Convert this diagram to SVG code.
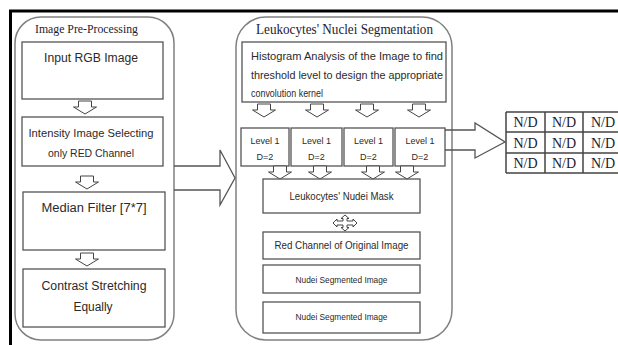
<svg xmlns="http://www.w3.org/2000/svg" xmlns:xlink="http://www.w3.org/1999/xlink" width="618" height="345" viewBox="0 0 618 345">
<style>
.frame{fill:none;stroke:#000;stroke-width:3}
.cont{fill:none;stroke:#808080;stroke-width:1.5}
.box{fill:#fff;stroke:#555;stroke-width:1.3}
.sarr{fill:#fff;stroke:#444;stroke-width:1}
.barr{fill:none;stroke:#555;stroke-width:1.3}
.ttl{font-family:"Liberation Serif",serif;fill:#1c1c30}
.t{font-family:"Liberation Sans",Arial,sans-serif;fill:#2a2a2a;text-anchor:middle}
.tl{font-family:"Liberation Sans",Arial,sans-serif;fill:#2a2a2a}
.nd{font-family:"Liberation Serif",serif;fill:#1a1a2e;font-size:14px;text-anchor:middle}
.tbl{fill:none;stroke:#444;stroke-width:1.5}
</style>
<defs>
<path id="sa" d="M-6.5,0 H6.5 V6 H11.5 L0,13 L-11.5,6 H-6.5 Z"/>
</defs>
<rect width="618" height="345" fill="#fff"/>
<path class="frame" d="M10.5,345 V11 H618"/>

<g id="preprocessing">
<rect class="cont" x="15" y="17" width="159" height="323" rx="26" ry="26"/>
<text class="ttl" x="35" y="33" font-size="12" textLength="103" lengthAdjust="spacingAndGlyphs">Image Pre-Processing</text>
</g>
<g id="input-rgb">
<rect class="box" x="22" y="42" width="141" height="57"/>
<text class="t" x="91" y="62" font-size="12" textLength="94" lengthAdjust="spacingAndGlyphs">Input RGB Image</text>
</g>
<g id="intensity">
<rect class="box" x="22" y="117" width="141" height="49"/>
<text class="t" x="91" y="137" font-size="11" textLength="125" lengthAdjust="spacingAndGlyphs">Intensity Image Selecting</text>
<text class="t" x="91" y="157" font-size="11" textLength="86" lengthAdjust="spacingAndGlyphs">only RED Channel</text>
</g>
<g id="median">
<rect class="box" x="23" y="192" width="142" height="58"/>
<text class="t" x="94" y="212" font-size="12" textLength="105" lengthAdjust="spacingAndGlyphs">Median Filter [7*7]</text>
</g>
<g id="contrast">
<rect class="box" x="23" y="269" width="142" height="58"/>
<text class="t" x="94" y="290" font-size="12" textLength="105" lengthAdjust="spacingAndGlyphs">Contrast Stretching</text>
<text class="t" x="93" y="311" font-size="12" textLength="39" lengthAdjust="spacingAndGlyphs">Equally</text>
</g>

<g id="segmentation">
<rect class="cont" x="236" y="17" width="216" height="323" rx="30" ry="30"/>
<text class="ttl" x="256" y="34" font-size="14" textLength="177" lengthAdjust="spacingAndGlyphs">Leukocytes' Nuclei Segmentation</text>
</g>
<g id="histogram">
<rect class="box" x="242" y="42" width="204" height="60"/>
<text class="tl" x="251" y="60" font-size="10.5" textLength="192" lengthAdjust="spacingAndGlyphs">Histogram Analysis of the Image to find</text>
<text class="tl" x="251" y="79" font-size="10.5" textLength="192" lengthAdjust="spacingAndGlyphs">threshold level to design the appropriate</text>
<text class="tl" x="251" y="97" font-size="10.5" textLength="72" lengthAdjust="spacingAndGlyphs">convolution kernel</text>
</g>
<g id="level-1">
<rect class="box" x="241" y="128" width="48" height="38"/>
<text class="t" x="265" y="144" font-size="9">Level 1</text>
<text class="t" x="265" y="160" font-size="9">D=2</text>
</g>
<g id="level-2">
<rect class="box" x="291" y="128" width="51" height="38"/>
<text class="t" x="316.5" y="144" font-size="9">Level 1</text>
<text class="t" x="316.5" y="160" font-size="9">D=2</text>
</g>
<g id="level-3">
<rect class="box" x="344" y="128" width="49" height="38"/>
<text class="t" x="368.5" y="144" font-size="9">Level 1</text>
<text class="t" x="368.5" y="160" font-size="9">D=2</text>
</g>
<g id="level-4">
<rect class="box" x="395" y="128" width="50" height="38"/>
<text class="t" x="420" y="144" font-size="9">Level 1</text>
<text class="t" x="420" y="160" font-size="9">D=2</text>
</g>
<g id="mask">
<rect class="box" x="263" y="179" width="157" height="34"/>
<text class="t" x="341.5" y="200" font-size="10" textLength="104" lengthAdjust="spacingAndGlyphs">Leukocytes' Nudei Mask</text>
</g>
<g id="red-channel">
<rect class="box" x="263" y="232" width="157" height="27"/>
<text class="t" x="341.5" y="249" font-size="10.5" textLength="134" lengthAdjust="spacingAndGlyphs">Red Channel of Original Image</text>
</g>
<g id="segmented-1">
<rect class="box" x="263" y="265" width="157" height="28"/>
<text class="t" x="341.5" y="283" font-size="9" textLength="92" lengthAdjust="spacingAndGlyphs">Nudei Segmented Image</text>
</g>
<g id="segmented-2">
<rect class="box" x="263" y="302" width="157" height="31"/>
<text class="t" x="341.5" y="320" font-size="9" textLength="92" lengthAdjust="spacingAndGlyphs">Nudei Segmented Image</text>
</g>

<g id="result-table">
<path class="tbl" d="M506,112 H618 M506,132 H618 M506,153 H618 M506,173 H618 M506,112 V173 M545,112 V173 M583,112 V173"/>
<text class="nd" x="525.5" y="127">N/D</text>
<text class="nd" x="564" y="127">N/D</text>
<text class="nd" x="603" y="127">N/D</text>
<text class="nd" x="525.5" y="148">N/D</text>
<text class="nd" x="564" y="148">N/D</text>
<text class="nd" x="603" y="148">N/D</text>
<text class="nd" x="525.5" y="168">N/D</text>
<text class="nd" x="564" y="168">N/D</text>
<text class="nd" x="603" y="168">N/D</text>
</g>

<g id="connectors">
<use xlink:href="#sa" class="sarr" x="85" y="101"/>
<use xlink:href="#sa" class="sarr" x="87" y="176"/>
<use xlink:href="#sa" class="sarr" x="87" y="253"/>
<use xlink:href="#sa" class="sarr" x="264" y="104"/>
<use xlink:href="#sa" class="sarr" x="317" y="104"/>
<use xlink:href="#sa" class="sarr" x="367" y="104"/>
<use xlink:href="#sa" class="sarr" x="419" y="104"/>
<use xlink:href="#sa" class="sarr" x="280" y="166"/>
<use xlink:href="#sa" class="sarr" x="320" y="166"/>
<use xlink:href="#sa" class="sarr" x="373" y="166"/>
<use xlink:href="#sa" class="sarr" x="407" y="166"/>
<path class="sarr" d="M345,215 L349,218.5 H347 V221 H353 V219 L357,223 L353,227 V225 H347 V227.5 H349 L345,231 L341,227.5 H343 V225 H337 V227 L333,223 L337,219 V221 H343 V218.5 H341 Z"/>
<path class="barr" d="M174,166 H220 V150 L235,178 L220,205 V190 H174"/>
<path class="barr" d="M445,130 H475 V123 L505,142 L475,158 V150 H445"/>
</g>
</svg>
